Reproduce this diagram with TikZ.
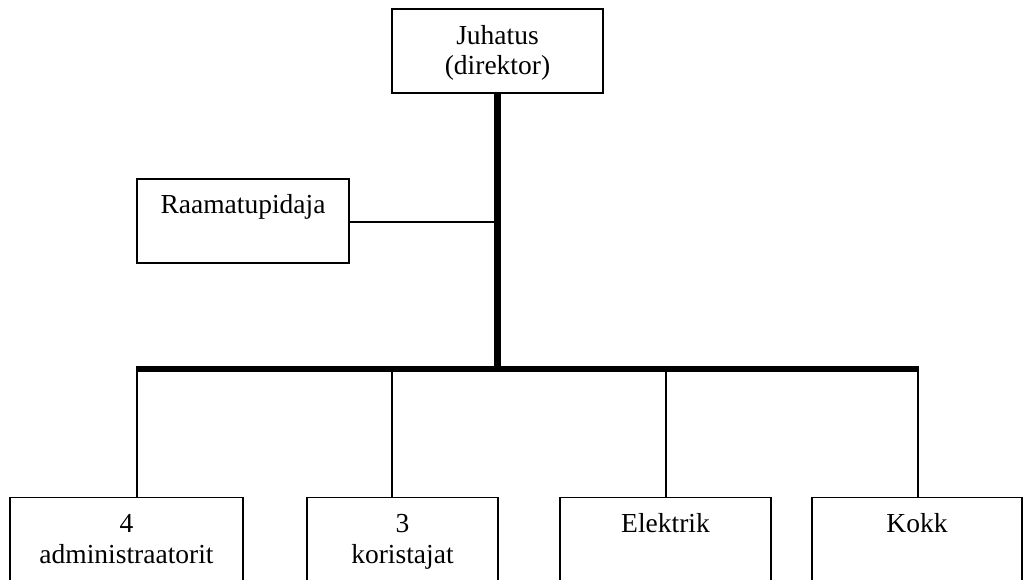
\documentclass[tikz,border=0pt]{standalone}
\usepackage{fontspec}
\setmainfont{Liberation Serif}
\usetikzlibrary{calc}
\begin{document}
\begin{tikzpicture}[x=1pt,y=1pt,
  box/.style={draw=black,line width=1.4pt,fill=white,rectangle,inner sep=0pt},
  txt/.style={anchor=base,inner sep=0pt,font=\fontsize{27.5}{31}\selectfont},
  thin/.style={line width=1.4pt},
  thick/.style={line width=6.5pt,line cap=butt}]
\useasboundingbox (0,0) rectangle (1026,-580);
\clip (0,0) rectangle (1026,-580);
% boxes
\node[box,minimum width=211pt,minimum height=84pt] (juh) at (497.5,-51) {};
\node[box,minimum width=212pt,minimum height=84pt] (raa) at (243,-221) {};
\node[box,minimum width=233pt,minimum height=120pt,anchor=north] (b1) at (126.5,-497) {};
\node[box,minimum width=191pt,minimum height=120pt,anchor=north] (b2) at (402.5,-497) {};
\node[box,minimum width=211pt,minimum height=120pt,anchor=north] (b3) at (665.5,-497) {};
\node[box,minimum width=210pt,minimum height=120pt,anchor=north] (b4) at (917,-497) {};
% texts
\node[txt] (tj1) at ($(juh.north)+(0,-36)$) {Juhatus};
\node[txt] (tj2) at ($(juh.north)+(0,-66)$) {(direktor)};
\node[txt] (tr) at ($(raa.north)+(0,-35)$) {Raamatupidaja};
\node[txt] (t11) at ($(b1.north)+(0,-35)$) {4};
\node[txt] (t12) at ($(b1.north)+(0,-66)$) {administraatorit};
\node[txt] (t21) at ($(b2.north)+(0,-35)$) {3};
\node[txt] (t22) at ($(b2.north)+(0,-66)$) {koristajat};
\node[txt] (t3) at ($(b3.north)+(0,-35)$) {Elektrik};
\node[txt] (t4) at ($(b4.north)+(0,-35)$) {Kokk};
% connectors
\coordinate (hub) at (497.5,-369);
\coordinate (rj) at (497.5,-222);
\coordinate (c1) at (137,-369);
\coordinate (c2) at (392,-369);
\coordinate (c3) at (666,-369);
\coordinate (c4) at (918,-369);
\draw[thin] (raa.east |- rj) -- (rj);
\draw[thin] (c1) -- (c1 |- b1.north);
\draw[thin] (c2) -- (c2 |- b2.north);
\draw[thin] (c3) -- (c3 |- b3.north);
\draw[thin] (c4) -- (c4 |- b4.north);
\draw[thick] (juh.south) -- ($(hub)+(0,-3)$);
\draw[thick] ($(c1)+(-0.7,0)$) -- ($(c4)+(0.7,0)$);
\end{tikzpicture}
\end{document}
